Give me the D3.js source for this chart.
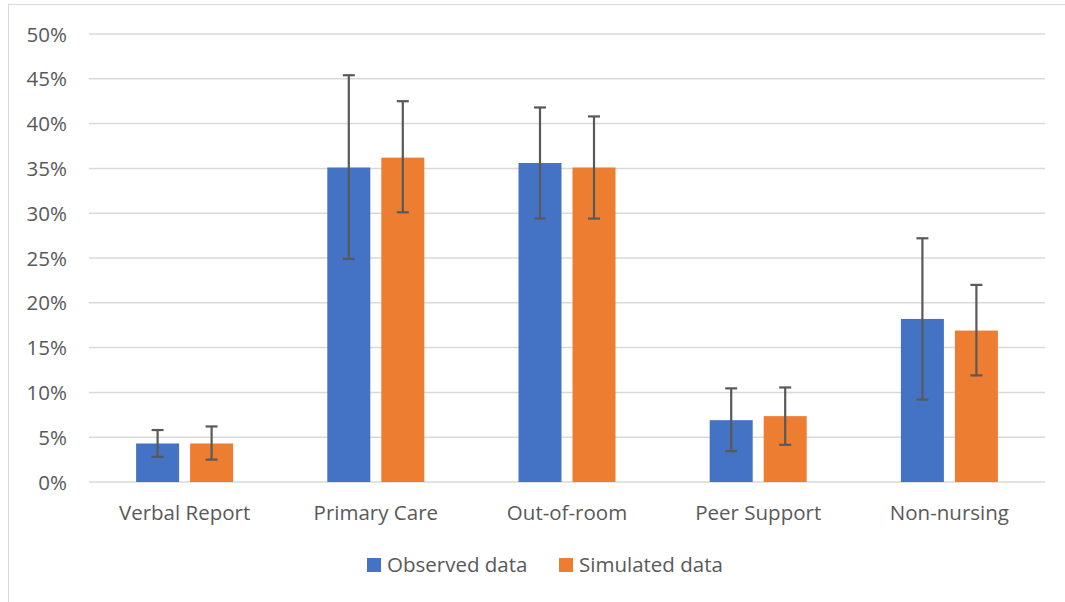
<!DOCTYPE html>
<html><head><meta charset="utf-8">
<script src="https://cdn.jsdelivr.net/npm/d3@7"></script>
<style>body{margin:0;background:#fff}svg{display:block}</style>
</head><body>
<svg id="c" width="1065" height="602"></svg>
<script>
const categories = ["Verbal Report","Primary Care","Out-of-room","Peer Support","Non-nursing"];
const seriesNames = ["Observed data","Simulated data"];
const observed = [4.3, 35.1, 35.6, 6.9, 18.2];
const observedLow = [2.8, 24.9, 29.4, 3.45, 9.2];
const observedHigh = [5.8, 45.4, 41.8, 10.45, 27.2];
const simulated = [4.3, 36.2, 35.1, 7.35, 16.9];
const simulatedLow = [2.5, 30.1, 29.4, 4.15, 11.9];
const simulatedHigh = [6.2, 42.5, 40.8, 10.55, 22.0];
const yTicks = [0,5,10,15,20,25,30,35,40,45,50];
const colors = ["#4472C4","#ED7D31"];

const svg = d3.select("#c");
const font = "'Open Sans', sans-serif";
const fs = 20.5;
svg.append("rect").attr("x",8.5).attr("y",4.5).attr("width",1070).attr("height",620)
  .attr("fill","none").attr("stroke","#D9D9D9").attr("stroke-width",1);

const x0 = d3.scaleBand().domain(categories).range([89,1045]);
const y = d3.scaleLinear().domain([0,50]).range([482,34]);

// grid
svg.append("g").selectAll("line").data(yTicks).join("line")
  .attr("x1",89).attr("x2",1045).attr("y1",d=>y(d)).attr("y2",d=>y(d))
  .attr("stroke","#D9D9D9").attr("stroke-width",1.5);

// y axis labels
const yAxis = d3.axisLeft(y).tickValues(yTicks).tickFormat(d=>d+"%").tickSize(0).tickPadding(0);
const ya = svg.append("g").attr("transform","translate(67,0)").call(yAxis);
ya.select(".domain").remove();
ya.selectAll("text").attr("font-family",font).attr("font-size",fs).attr("fill","#595959").attr("dy","0.35em");

// x axis labels
const xAxis = d3.axisBottom(x0).tickSize(0).tickPadding(0);
const xa = svg.append("g").attr("transform","translate(0,513)").call(xAxis);
xa.select(".domain").remove();
xa.selectAll("text").attr("font-family",font).attr("font-size",fs).attr("fill","#595959").attr("dy","0.35em");

const barW = 43, gap = 11;
const offsets = [-(gap/2+barW/2), gap/2+barW/2];
const data = [
  {vals:observed, lo:observedLow, hi:observedHigh},
  {vals:simulated, lo:simulatedLow, hi:simulatedHigh}
];
data.forEach((s,si)=>{
  const g = svg.append("g");
  g.selectAll("rect").data(categories).join("rect")
    .attr("x",(c)=>x0(c)+x0.bandwidth()/2+offsets[si]-barW/2)
    .attr("width",barW)
    .attr("y",(c,i)=>y(s.vals[i]))
    .attr("height",(c,i)=>y(0)-y(s.vals[i]))
    .attr("fill",colors[si]);
});
data.forEach((s,si)=>{
  const g = svg.append("g").attr("stroke","#595959").attr("stroke-width",2.2);
  categories.forEach((c,i)=>{
    const cx = x0(c)+x0.bandwidth()/2+offsets[si];
    g.append("line").attr("x1",cx).attr("x2",cx).attr("y1",y(s.lo[i])).attr("y2",y(s.hi[i]));
    g.append("line").attr("x1",cx-6).attr("x2",cx+6).attr("y1",y(s.lo[i])).attr("y2",y(s.lo[i]));
    g.append("line").attr("x1",cx-6).attr("x2",cx+6).attr("y1",y(s.hi[i])).attr("y2",y(s.hi[i]));
  });
});

// legend
const legX = [367, 559];
const lg = svg.append("g");
seriesNames.forEach((n,i)=>{
  lg.append("rect").attr("x",legX[i]).attr("y",558).attr("width",14).attr("height",14).attr("fill",colors[i]);
  lg.append("text").attr("x",legX[i]+20).attr("y",565).attr("dy","0.35em")
    .attr("font-family",font).attr("font-size",fs).attr("fill","#595959").text(n);
});
</script>
</body></html>
